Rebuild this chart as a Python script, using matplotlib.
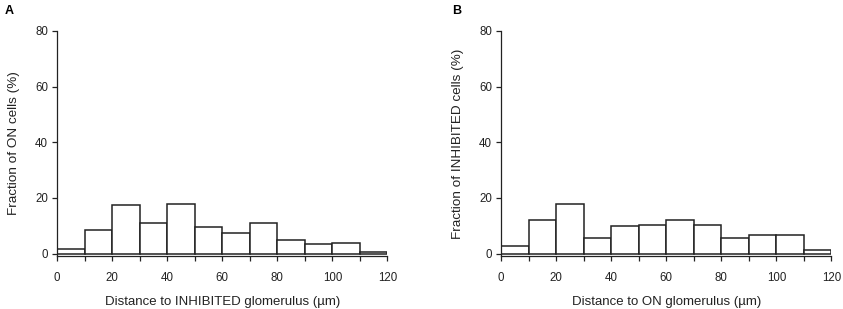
import matplotlib.pyplot as plt
import numpy as np

plt.rcParams['font.family'] = ['Liberation Sans', 'DejaVu Sans']

bin_edges = [0, 10, 20, 30, 40, 50, 60, 70, 80, 90, 100, 110, 120]
on_cells = [1.6, 8.4, 17.5, 10.9, 17.9, 9.7, 7.4, 11.1, 4.8, 3.4, 3.8, 0.7]
inhibited_cells = [2.6, 11.9, 17.8, 5.5, 9.8, 10.1, 12.2, 10.2, 5.6, 6.6, 6.8, 1.4]

panels = [
    ("A", on_cells, "Distance to INHIBITED glomerulus (\u00b5m)", "Fraction of ON cells (%)"),
    ("B", inhibited_cells, "Distance to ON glomerulus (\u00b5m)", "Fraction of INHIBITED cells (%)"),
]

fig = plt.figure(figsize=(8.43, 3.09), dpi=100)
lefts = [0.0676, 0.5943]
letter_x = [0.005, 0.536]

for left, lx, (letter, vals, xlab, ylab) in zip(lefts, letter_x, panels):
    ax = fig.add_axes([left, 0.1715, 0.392, 0.7282])
    edges = np.array(bin_edges)
    ax.bar(edges[:-1], vals, width=np.diff(edges), align='edge',
           color='white', edgecolor='#222222', linewidth=1.1)
    ax.set_xlim(0, 120)
    ax.set_ylim(-0.9, 80)
    ax.set_xticks(range(0, 121, 20))
    ax.set_xticks(range(10, 120, 20), minor=True)
    ax.set_yticks(range(0, 81, 20))
    ax.tick_params(which='both', direction='out', length=3.5, width=0.9,
                   labelsize=8.3, colors='#222222', pad=3)
    ax.tick_params(axis='x', pad=8)
    for s in ['top', 'right']:
        ax.spines[s].set_visible(False)
    for s in ['left', 'bottom']:
        ax.spines[s].set_linewidth(0.9)
        ax.spines[s].set_color('#222222')
    ax.set_xlabel(xlab, fontsize=9.5, color='#222222', labelpad=9)
    ax.set_ylabel(ylab, fontsize=9.7, color='#222222', labelpad=11)
    fig.text(lx, 0.965, letter, fontsize=9, fontweight='bold', va='center')

fig.savefig("out.png", dpi=100)
